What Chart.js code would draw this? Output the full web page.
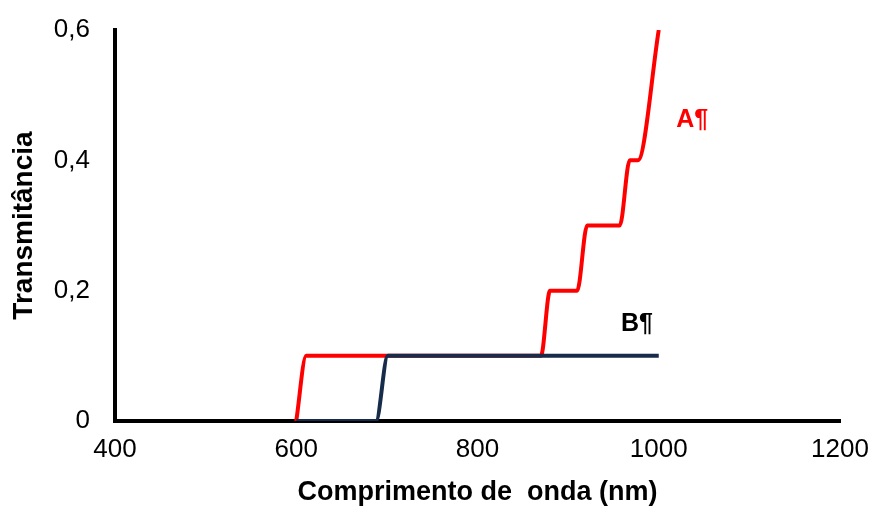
<!DOCTYPE html>
<html>
<head>
<meta charset="utf-8">
<script src="https://cdn.jsdelivr.net/npm/chart.js@4/dist/chart.umd.min.js"></script>
<style>
  html, body { margin: 0; padding: 0; background: #fff; }
  #wrap { width: 877px; height: 508px; }
</style>
</head>
<body>
<div id="wrap"><canvas id="myChart" width="877" height="508"></canvas></div>
<script>
// curve A (red)
const aX = [600, 611, 870, 880, 910, 921, 957, 968, 977, 1000];
const aY = [0, 0.1, 0.1, 0.2, 0.2, 0.3, 0.3, 0.4, 0.4, 0.6];
// curve B (dark blue)
const bX = [600, 688, 701, 1000];
const bY = [0, 0, 0.1, 0.1];
// series labels written on the plot
const labelNames = ["A¶", "B¶"];
const labelX = [1037, 976];
const labelY = [0.461, 0.148];
const labelColors = ["#ff0000", "#000000"];

const xTicks = [400, 600, 800, 1000, 1200];
const yTicks = [0, 0.2, 0.4, 0.6];

const FONT = "'Liberation Sans', Arial, sans-serif";
const toPoints = (xs, ys) => xs.map((x, i) => ({ x: x, y: ys[i] }));

// draws A¶ / B¶ next to the lines
const seriesLabels = {
  id: "seriesLabels",
  afterDatasetsDraw(chart) {
    const ctx = chart.ctx;
    const xs = chart.scales.x, ys = chart.scales.y;
    ctx.save();
    ctx.font = "bold 25px " + FONT;
    ctx.textAlign = "center";
    ctx.textBaseline = "middle";
    for (let i = 0; i < labelNames.length; i++) {
      ctx.fillStyle = labelColors[i];
      ctx.fillText(labelNames[i], xs.getPixelForValue(labelX[i]), ys.getPixelForValue(labelY[i]));
    }
    ctx.restore();
  },
};

new Chart("myChart", {
  type: "line",
  data: {
    datasets: [
      {
        label: "A",
        data: toPoints(aX, aY),
        borderColor: "#ff0000",
        borderWidth: 4,
        pointRadius: 0,
        fill: false,
        cubicInterpolationMode: "monotone",
        order: 2,
      },
      {
        label: "B",
        data: toPoints(bX, bY),
        borderColor: "#172b4a",
        borderWidth: 4,
        pointRadius: 0,
        fill: false,
        cubicInterpolationMode: "monotone",
        order: 1,
      },
    ],
  },
  options: {
    responsive: false,
    animation: false,
    layout: { padding: { left: 0, right: 37, top: 30, bottom: 0 } },
    plugins: { legend: { display: false }, tooltip: { enabled: false } },
    scales: {
      x: {
        type: "linear",
        min: 400,
        max: 1200,
        afterBuildTicks: (axis) => { axis.ticks = xTicks.map((v) => ({ value: v })); },
        afterFit: (s) => { s.paddingLeft = 0; s.paddingRight = 0; },
        grid: { display: false, drawTicks: false },
        border: { display: true, color: "#000", width: 4 },
        ticks: {
          color: "#000",
          font: { family: FONT, size: 26, lineHeight: 1 },
          padding: 16,
          maxRotation: 0,
          callback: (v) => String(v),
        },
        title: {
          display: true,
          text: "Comprimento de  onda (nm)",
          color: "#000",
          font: { family: FONT, size: 27, weight: "bold", lineHeight: 1 },
          padding: { top: 0, bottom: 2 },
        },
      },
      y: {
        min: 0,
        max: 0.6,
        afterBuildTicks: (axis) => { axis.ticks = yTicks.map((v) => ({ value: v })); },
        afterFit: (s) => { s.width = 115; s.paddingTop = 0; s.paddingBottom = 0; },
        grid: { display: false, drawTicks: false },
        border: { display: true, color: "#000", width: 4 },
        ticks: {
          color: "#000",
          font: { family: FONT, size: 26 },
          padding: 25,
          callback: (v) => (v === 0 ? "0" : v.toFixed(1).replace(".", ",")),
        },
        title: {
          display: true,
          text: "Transmitância",
          color: "#000",
          font: { family: FONT, size: 28, weight: "bold", lineHeight: 1 },
          padding: { top: 10, bottom: 0 },
        },
      },
    },
  },
  plugins: [seriesLabels],
});
</script>
</body>
</html>
